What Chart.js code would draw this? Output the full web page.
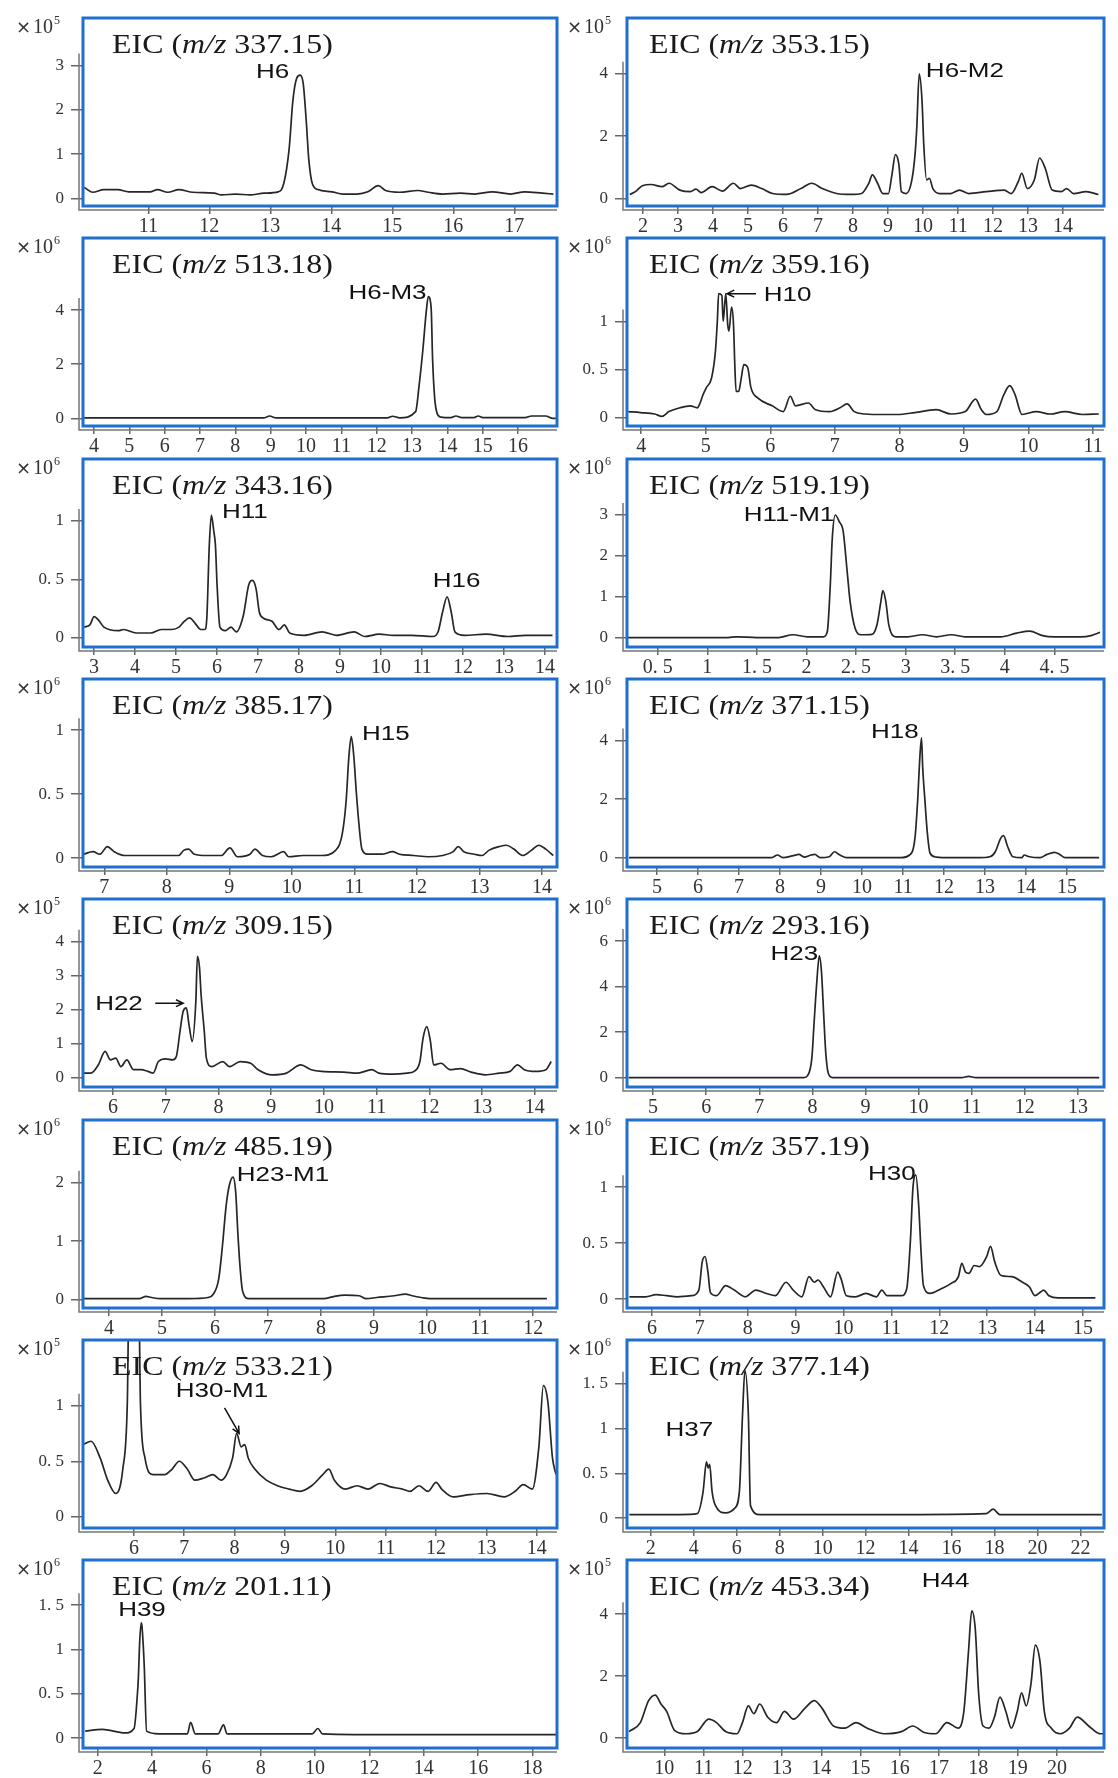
<!DOCTYPE html>
<html>
<head>
<meta charset="utf-8">
<script src="https://cdn.jsdelivr.net/npm/chart.js@4.4.1/dist/chart.umd.min.js"></script>
<style>
  body { margin: 0; background: #fff; width: 1118px; height: 1778px; overflow: hidden; position: relative; }
  canvas { position: absolute; }
</style>
</head>
<body>
<script>
// EIC traces: retention time (min) and intensity (in units of the panel's x10^n)
var p1Time = [9.95,10.09,10.27,10.5,10.68,11.03,11.15,11.32,11.5,11.73,12.08,12.2,12.43,12.67,12.9,13.13,13.22,13.31,13.37,13.43,13.49,13.54,13.59,13.63,13.69,13.78,14.01,14.19,14.42,14.6,14.77,14.89,15.12,15.42,15.59,15.82,16.12,16.35,16.64,16.94,17.17,17.46,17.64];
var p1Int = [0.25,0.14,0.2,0.2,0.15,0.15,0.2,0.14,0.2,0.14,0.12,0.08,0.1,0.08,0.12,0.15,0.33,1.13,2.2,2.7,2.78,2.59,1.74,0.9,0.33,0.2,0.15,0.1,0.1,0.15,0.29,0.18,0.14,0.18,0.14,0.1,0.12,0.1,0.15,0.1,0.15,0.12,0.1];
var p1XTicks = [11,12,13,14,15,16,17];
var p1YTicks = [0,1,2,3];
var p1Peaks = [{ text: 'H6', x: 13.31, y: 2.85, align: 'right' }];

var p2Time = [1.62,1.78,1.98,2.23,2.54,2.74,3.05,3.35,3.51,3.66,3.97,4.27,4.58,4.78,5.09,5.39,5.7,6.1,6.51,6.82,7.12,7.53,7.94,8.24,8.45,8.55,8.7,8.85,9.01,9.11,9.21,9.31,9.38,9.52,9.67,9.77,9.82,9.89,9.97,10.02,10.1,10.18,10.28,10.48,10.79,11.04,11.3,11.81,12.32,12.52,12.72,12.82,12.98,13.18,13.33,13.49,13.69,13.95,14.1,14.3,14.66,15.01];
var p2Int = [0.13,0.22,0.41,0.45,0.38,0.49,0.27,0.22,0.3,0.19,0.38,0.24,0.49,0.32,0.43,0.32,0.16,0.13,0.32,0.49,0.32,0.16,0.13,0.16,0.49,0.76,0.49,0.16,0.16,0.76,1.41,1.08,0.22,0.16,0.54,1.41,2.27,4.0,3.14,1.73,0.6,0.65,0.32,0.16,0.16,0.27,0.16,0.22,0.27,0.16,0.54,0.81,0.32,0.6,1.3,0.97,0.27,0.22,0.32,0.16,0.22,0.13];
var p2XTicks = [2,3,4,5,6,7,8,9,10,11,12,13,14];
var p2YTicks = [0,2,4];
var p2Peaks = [{ text: 'H6-M2', x: 10.08, y: 4.06, align: 'left' }];

var p3Time = [3.72,8.8,8.97,9.15,12.3,12.45,12.65,13.1,13.2,13.3,13.41,13.46,13.54,13.58,13.64,13.71,13.81,14.1,14.24,14.4,14.75,14.87,15.0,16.2,16.38,16.78,16.98,17.08];
var p3Int = [0.02,0.02,0.09,0.02,0.02,0.08,0.02,0.25,1.23,2.46,4.06,4.5,4.06,2.2,0.74,0.18,0.05,0.03,0.09,0.03,0.03,0.09,0.03,0.03,0.09,0.09,0.0,0.0];
var p3XTicks = [4,5,6,7,8,9,10,11,12,13,14,15,16];
var p3YTicks = [0,2,4];
var p3Peaks = [{ text: 'H6-M3', x: 13.41, y: 4.62, align: 'right' }];

var p4Time = [3.8,3.99,4.21,4.32,4.43,4.6,4.76,4.87,4.9,4.96,5.01,5.09,5.15,5.18,5.2,5.25,5.27,5.31,5.34,5.36,5.4,5.43,5.45,5.47,5.51,5.55,5.59,5.65,5.7,5.81,6.03,6.2,6.31,6.39,6.59,6.7,6.92,7.08,7.19,7.3,7.47,7.58,7.97,8.24,8.57,8.8,9.02,9.18,9.27,9.35,9.51,9.62,9.71,9.79,9.9,10.12,10.34,10.56,10.84,11.09];
var p4Int = [0.06,0.05,0.035,0.01,0.06,0.1,0.12,0.1,0.13,0.24,0.31,0.41,0.69,1.01,1.29,1.27,1.0,1.29,0.97,0.9,1.15,0.97,0.55,0.27,0.27,0.41,0.55,0.52,0.31,0.2,0.12,0.06,0.22,0.12,0.15,0.08,0.06,0.1,0.14,0.06,0.035,0.03,0.03,0.05,0.08,0.035,0.06,0.19,0.08,0.03,0.06,0.24,0.33,0.24,0.03,0.06,0.035,0.06,0.03,0.035];
var p4XTicks = [4,5,6,7,8,9,10,11];
var p4YTicks = [0,0.5,1];
var p4Peaks = [{ text: 'H10', x: 5.9, y: 1.27, align: 'left', arrow: [5.78, 1.29, 5.33, 1.29] }];

var p5Time = [2.76,2.9,3.0,3.11,3.24,3.59,3.72,4.03,4.38,4.64,4.9,5.07,5.2,5.33,5.47,5.6,5.7,5.75,5.81,5.86,5.92,5.96,6.0,6.07,6.2,6.34,6.47,6.64,6.77,6.86,6.95,7.03,7.12,7.34,7.51,7.64,7.77,8.12,8.56,8.91,9.34,9.6,9.95,10.3,10.74,11.26,11.39,11.5,11.61,11.71,11.8,12.04,12.56,13.09,13.52,14.18];
var p5Int = [0.09,0.11,0.18,0.15,0.09,0.06,0.07,0.04,0.04,0.07,0.07,0.09,0.14,0.17,0.12,0.07,0.07,0.17,0.79,1.05,0.91,0.79,0.45,0.09,0.06,0.09,0.05,0.19,0.45,0.49,0.42,0.22,0.17,0.14,0.07,0.11,0.04,0.02,0.05,0.02,0.05,0.01,0.03,0.02,0.02,0.01,0.05,0.22,0.35,0.22,0.05,0.02,0.03,0.01,0.02,0.02];
var p5XTicks = [3,4,5,6,7,8,9,10,11,12,13,14];
var p5YTicks = [0,0.5,1];
var p5Peaks = [{ text: 'H11', x: 6.12, y: 1.07, align: 'left' }, { text: 'H16', x: 11.84, y: 0.48, align: 'center' }];

var p6Time = [0.2,1.21,1.29,1.5,1.72,1.86,2.01,2.17,2.21,2.24,2.26,2.29,2.33,2.37,2.41,2.44,2.49,2.55,2.66,2.71,2.75,2.77,2.8,2.83,2.9,3.02,3.17,3.31,3.46,3.6,3.82,3.96,4.12,4.25,4.38,4.5,4.76,4.87,4.96];
var p6Int = [0,0,0.02,0,0,0.07,0.02,0.02,0.15,1.29,2.43,3.0,2.84,2.6,1.62,0.88,0.23,0.07,0.08,0.31,0.88,1.15,0.88,0.31,0.02,0.02,0.07,0.02,0.07,0.02,0.02,0.02,0.11,0.16,0.05,0.02,0.02,0.05,0.13];
var p6XTicks = [0.5,1,1.5,2,2.5,3,3.5,4,4.5];
var p6YTicks = [0,1,2,3];
var p6Peaks = [{ text: 'H11-M1', x: 2.28, y: 3.0, align: 'right' }];

var p7Time = [6.67,6.82,6.93,7.05,7.16,7.33,7.62,7.9,8.19,8.27,8.35,8.44,8.64,8.87,9.01,9.13,9.33,9.41,9.53,9.67,9.87,9.95,10.18,10.47,10.7,10.81,10.87,10.91,10.95,10.99,11.03,11.07,11.12,11.21,11.44,11.61,11.72,11.95,12.18,12.41,12.58,12.66,12.75,12.92,13.04,13.15,13.32,13.43,13.55,13.69,13.83,13.95,14.06,14.18];
var p7Int = [0.03,0.05,0.03,0.09,0.05,0.02,0.02,0.02,0.02,0.06,0.07,0.03,0.02,0.02,0.08,0.01,0.03,0.07,0.02,0.01,0.05,0.01,0.02,0.02,0.06,0.2,0.46,0.78,0.95,0.8,0.52,0.28,0.07,0.03,0.03,0.05,0.03,0.02,0.01,0.02,0.05,0.09,0.05,0.03,0.02,0.06,0.09,0.1,0.07,0.02,0.06,0.1,0.07,0.02];
var p7XTicks = [7,8,9,10,11,12,13,14];
var p7YTicks = [0,0.5,1];
var p7Peaks = [{ text: 'H15', x: 11.12, y: 0.97, align: 'left' }];

var p8Time = [4.32,7.8,7.94,8.07,8.33,8.46,8.59,8.76,8.85,8.98,9.2,9.33,9.46,9.63,10.42,10.94,11.16,11.29,11.36,11.4,11.45,11.48,11.53,11.59,11.66,11.81,12.16,12.86,13.12,13.25,13.38,13.45,13.55,13.68,13.9,13.95,14.08,14.34,14.51,14.69,14.82,14.95,15.78];
var p8Int = [0,0,0.09,0,0.07,0.11,0.02,0.09,0.11,0,0.03,0.2,0.09,0,0,0,0.09,0.66,2.03,3.17,4.09,3.06,2.03,0.89,0.15,0.02,0,0,0.03,0.2,0.66,0.75,0.38,0.03,0,0.09,0.03,0,0.11,0.18,0.11,0,0];
var p8XTicks = [5,6,7,8,9,10,11,12,13,14,15];
var p8YTicks = [0,2,4];
var p8Peaks = [{ text: 'H18', x: 11.38, y: 4.26, align: 'right' }];

var p9Time = [5.43,5.58,5.72,5.85,5.95,6.05,6.15,6.26,6.39,6.53,6.66,6.76,6.86,7.0,7.13,7.2,7.27,7.33,7.39,7.44,7.5,7.57,7.6,7.64,7.67,7.73,7.77,7.87,8.08,8.21,8.41,8.61,8.75,9.02,9.29,9.56,9.76,9.96,10.37,10.64,10.91,11.04,11.31,11.58,11.71,11.82,11.88,11.95,12.02,12.08,12.22,12.39,12.59,12.79,13.06,13.33,13.53,13.67,13.8,14.01,14.21,14.31];
var p9Int = [0.13,0.13,0.37,0.77,0.52,0.57,0.32,0.52,0.23,0.23,0.18,0.13,0.47,0.55,0.52,0.62,1.36,1.95,2.05,1.56,1.06,2.24,3.57,3.23,2.44,1.36,0.57,0.32,0.47,0.32,0.47,0.42,0.23,0.08,0.13,0.37,0.23,0.18,0.16,0.13,0.23,0.13,0.1,0.13,0.18,0.47,1.16,1.5,1.06,0.37,0.42,0.23,0.26,0.16,0.08,0.13,0.18,0.37,0.23,0.18,0.23,0.47];
var p9XTicks = [6,7,8,9,10,11,12,13,14];
var p9YTicks = [0,1,2,3,4];
var p9Peaks = [{ text: 'H22', x: 5.66, y: 2.15, align: 'left', arrow: [6.8, 2.19, 7.33, 2.19] }];

var p10Time = [4.54,7.84,7.91,7.99,8.03,8.08,8.13,8.17,8.21,8.25,8.3,8.38,8.79,10.81,10.94,11.08,13.4];
var p10Int = [0,0,0.09,0.86,2.33,4.1,5.35,4.69,2.92,1.15,0.19,0,0,0,0.06,0,0];
var p10XTicks = [5,6,7,8,9,10,11,12,13];
var p10YTicks = [0,2,4,6];
var p10Peaks = [{ text: 'H23', x: 8.11, y: 5.43, align: 'right' }];

var p11Time = [3.53,4.03,4.57,4.7,4.8,4.97,5.51,5.87,5.97,6.07,6.14,6.21,6.27,6.34,6.39,6.43,6.47,6.52,6.64,7.38,8.05,8.25,8.45,8.72,8.85,9.05,9.38,9.59,9.72,9.89,10.05,10.72,11.39,11.93,12.26];
var p11Int = [0.01,0.01,0.01,0.05,0.03,0.01,0.01,0.03,0.09,0.35,0.92,1.61,1.96,2.1,1.84,1.15,0.58,0.14,0.01,0.01,0.01,0.05,0.07,0.06,0.01,0.03,0.06,0.09,0.06,0.03,0.01,0.01,0.01,0.01,0.01];
var p11XTicks = [4,5,6,7,8,9,10,11,12];
var p11YTicks = [0,1,2];
var p11Peaks = [{ text: 'H23-M1', x: 6.41, y: 2.13, align: 'left' }];

var p12Time = [5.53,5.87,6.09,6.31,6.53,6.83,6.98,7.05,7.11,7.17,7.22,7.35,7.54,7.72,7.95,8.17,8.39,8.58,8.8,8.95,9.13,9.28,9.39,9.47,9.58,9.73,9.88,9.95,10.06,10.25,10.47,10.69,10.8,10.91,11.21,11.32,11.4,11.45,11.51,11.57,11.62,11.67,11.81,12.03,12.25,12.4,12.47,12.55,12.62,12.73,12.84,12.99,13.07,13.16,13.29,13.51,13.74,13.88,14.0,14.11,14.18,14.29,14.48,14.85,15.26];
var p12Int = [0.02,0.02,0.04,0.03,0.02,0.03,0.08,0.33,0.38,0.24,0.06,0.03,0.12,0.08,0.02,0.08,0.05,0.03,0.15,0.08,0.02,0.2,0.15,0.17,0.11,0.02,0.24,0.18,0.03,0.02,0.05,0.02,0.08,0.03,0.03,0.09,0.54,0.99,1.11,0.84,0.42,0.12,0.05,0.09,0.14,0.2,0.32,0.24,0.23,0.3,0.29,0.38,0.47,0.33,0.21,0.2,0.15,0.11,0.03,0.06,0.08,0.03,0.01,0.01,0.01];
var p12XTicks = [6,7,8,9,10,11,12,13,14,15];
var p12YTicks = [0,0.5,1];
var p12Peaks = [{ text: 'H30', x: 11.51, y: 1.11, align: 'right' }];

var p13Time = [4.99,5.15,5.33,5.48,5.64,5.78,5.87,5.91,6.09,6.13,6.22,6.38,6.61,6.76,6.9,7.06,7.21,7.39,7.57,7.73,7.84,7.96,8.04,8.13,8.2,8.27,8.4,8.63,8.85,9.08,9.3,9.53,9.75,9.87,9.98,10.2,10.43,10.65,10.88,11.1,11.33,11.48,11.66,11.84,12.0,12.11,12.34,12.67,13.01,13.35,13.57,13.73,13.91,14.04,14.13,14.22,14.31,14.38];
var p13Int = [0.65,0.68,0.53,0.33,0.21,0.43,1.03,2.2,2.2,1.03,0.53,0.38,0.38,0.43,0.5,0.43,0.33,0.35,0.38,0.33,0.38,0.53,0.75,0.63,0.65,0.53,0.43,0.33,0.28,0.25,0.23,0.28,0.38,0.43,0.33,0.25,0.28,0.25,0.3,0.27,0.25,0.23,0.28,0.23,0.31,0.25,0.18,0.2,0.21,0.18,0.23,0.29,0.25,0.63,1.18,1.03,0.53,0.38];
var p13XTicks = [6,7,8,9,10,11,12,13,14];
var p13YTicks = [0,0.5,1];
var p13Peaks = [{ text: 'H30-M1', x: 6.83, y: 1.13, align: 'left', arrow: [7.8, 0.98, 8.09, 0.75] }];

var p14Time = [1.0,3.37,4.16,4.43,4.59,4.67,4.74,4.85,5.01,5.48,5.9,6.12,6.27,6.38,6.54,6.64,7.07,9.7,13.93,17.62,17.94,18.25,21.84,23.0];
var p14Int = [0.04,0.04,0.05,0.29,0.63,0.56,0.6,0.3,0.14,0.06,0.11,0.29,1.16,1.65,1.16,0.14,0.04,0.04,0.04,0.05,0.1,0.04,0.04,0.04];
var p14XTicks = [2,4,6,8,10,12,14,16,18,20,22];
var p14YTicks = [0,0.5,1,1.5];
var p14Peaks = [{ text: 'H37', x: 3.79, y: 0.98, align: 'center' }];

var p15Time = [1.54,2.17,3.0,3.34,3.46,3.5,3.54,3.6,3.63,3.71,3.8,4.25,5.3,5.42,5.59,6.43,6.63,6.76,8.43,9.89,10.1,10.27,13.02,15.95,18.91];
var p15Int = [0.08,0.1,0.06,0.11,0.49,0.7,1.05,1.3,1.26,0.84,0.08,0.05,0.05,0.18,0.05,0.05,0.15,0.05,0.05,0.05,0.11,0.05,0.04,0.04,0.04];
var p15XTicks = [2,4,6,8,10,12,14,16,18];
var p15YTicks = [0,0.5,1,1.5];
var p15Peaks = [{ text: 'H39', x: 3.63, y: 1.44, align: 'center' }];

var p16Time = [9.1,9.39,9.6,9.77,9.91,10.06,10.26,10.55,10.84,11.13,11.33,11.56,11.85,11.99,12.14,12.28,12.43,12.63,12.86,13.06,13.29,13.58,13.82,14.02,14.31,14.6,14.88,15.17,15.61,16.04,16.33,16.62,16.91,17.2,17.49,17.63,17.75,17.83,17.92,18.01,18.12,18.27,18.41,18.55,18.7,18.84,18.99,19.1,19.22,19.34,19.45,19.57,19.68,19.86,20.09,20.32,20.52,20.81,21.1,21.2];
var p16Int = [0.21,0.5,1.21,1.39,1.11,0.86,0.25,0.14,0.21,0.61,0.5,0.21,0.14,0.5,1.04,0.79,1.1,0.68,0.5,0.86,0.61,0.96,1.21,0.96,0.39,0.32,0.5,0.32,0.14,0.21,0.39,0.18,0.14,0.5,0.32,0.86,2.82,4.11,3.54,1.39,0.39,0.32,0.68,1.32,0.86,0.32,0.86,1.46,1.04,1.75,3.0,2.46,0.86,0.32,0.14,0.32,0.68,0.39,0.14,0.14];
var p16XTicks = [10,11,12,13,14,15,16,17,18,19,20];
var p16YTicks = [0,2,4];
var p16Peaks = [{ text: 'H44', x: 17.77, y: 5.07, align: 'right' }];

var panels = [
  { mz: '337.15', exp: 5, time: p1Time, inten: p1Int, xTicks: p1XTicks, yTicks: p1YTicks, peaks: p1Peaks, xr: [9.93, 17.7], yr: [-0.17, 4.07] },
  { mz: '353.15', exp: 5, time: p2Time, inten: p2Int, xTicks: p2XTicks, yTicks: p2YTicks, peaks: p2Peaks, xr: [1.54, 15.17], yr: [-0.24, 5.79] },
  { mz: '513.18', exp: 6, time: p3Time, inten: p3Int, xTicks: p3XTicks, yTicks: p3YTicks, peaks: p3Peaks, xr: [3.69, 17.1], yr: [-0.28, 6.66] },
  { mz: '359.16', exp: 6, time: p4Time, inten: p4Int, xTicks: p4XTicks, yTicks: p4YTicks, peaks: p4Peaks, xr: [3.78, 11.17], yr: [-0.09, 1.87] },
  { mz: '343.16', exp: 6, time: p5Time, inten: p5Int, xTicks: p5XTicks, yTicks: p5YTicks, peaks: p5Peaks, xr: [2.73, 14.29], yr: [-0.08, 1.53] },
  { mz: '519.19', exp: 6, time: p6Time, inten: p6Int, xTicks: p6XTicks, yTicks: p6YTicks, peaks: p6Peaks, xr: [0.19, 5.0], yr: [-0.23, 4.37] },
  { mz: '385.17', exp: 6, time: p7Time, inten: p7Int, xTicks: p7XTicks, yTicks: p7YTicks, peaks: p7Peaks, xr: [6.66, 14.24], yr: [-0.07, 1.40] },
  { mz: '371.15', exp: 6, time: p8Time, inten: p8Int, xTicks: p8XTicks, yTicks: p8YTicks, peaks: p8Peaks, xr: [4.27, 15.9], yr: [-0.32, 6.1] },
  { mz: '309.15', exp: 5, time: p9Time, inten: p9Int, xTicks: p9XTicks, yTicks: p9YTicks, peaks: p9Peaks, xr: [5.43, 14.42], yr: [-0.28, 5.26] },
  { mz: '293.16', exp: 6, time: p10Time, inten: p10Int, xTicks: p10XTicks, yTicks: p10YTicks, peaks: p10Peaks, xr: [4.51, 13.49], yr: [-0.41, 7.85] },
  { mz: '485.19', exp: 6, time: p11Time, inten: p11Int, xTicks: p11XTicks, yTicks: p11YTicks, peaks: p11Peaks, xr: [3.51, 12.45], yr: [-0.15, 3.08] },
  { mz: '357.19', exp: 6, time: p12Time, inten: p12Int, xTicks: p12XTicks, yTicks: p12YTicks, peaks: p12Peaks, xr: [5.48, 15.44], yr: [-0.08, 1.6] },
  { mz: '533.21', exp: 5, time: p13Time, inten: p13Int, xTicks: p13XTicks, yTicks: p13YTicks, peaks: p13Peaks, xr: [4.99, 14.4], yr: [-0.1, 1.59] },
  { mz: '377.14', exp: 6, time: p14Time, inten: p14Int, xTicks: p14XTicks, yTicks: p14YTicks, peaks: p14Peaks, xr: [0.89, 23.1], yr: [-0.11, 1.99] },
  { mz: '201.11', exp: 6, time: p15Time, inten: p15Int, xTicks: p15XTicks, yTicks: p15YTicks, peaks: p15Peaks, xr: [1.46, 18.9], yr: [-0.11, 2.01] },
  { mz: '453.34', exp: 5, time: p16Time, inten: p16Int, xTicks: p16XTicks, yTicks: p16YTicks, peaks: p16Peaks, xr: [9.05, 21.2], yr: [-0.32, 5.75] }
];

// page layout of the blue plot frames
var colLeft = [83, 627];
var colRight = [557, 1104];
var rowTop = [18, 238, 459, 679, 899, 1120, 1340, 1560];
var boxH = 188;
var padTop = 6, padRight = 20, axisW = 75, axisH = 35;

function fmt(v) {
  return String(v).replace('.', '. ');
}

// the original figure is stretched sideways, so its text is too
function wideText(ctx, text, x, y, sx, align) {
  ctx.save();
  ctx.translate(x, y);
  ctx.scale(sx, 1);
  ctx.textAlign = align;
  ctx.fillText(text, 0, 0);
  ctx.restore();
}

function arrow(ctx, x1, y1, x2, y2) {
  var ang = Math.atan2(y2 - y1, x2 - x1);
  ctx.beginPath();
  ctx.moveTo(x1, y1);
  ctx.lineTo(x2, y2);
  ctx.moveTo(x2 - 8 * Math.cos(ang - 0.45), y2 - 8 * Math.sin(ang - 0.45));
  ctx.lineTo(x2, y2);
  ctx.lineTo(x2 - 8 * Math.cos(ang + 0.45), y2 - 8 * Math.sin(ang + 0.45));
  ctx.stroke();
}

function framePlugin(p, col) {
  return {
    id: 'eicFrame',
    afterDraw: function (chart) {
      var ctx = chart.ctx, a = chart.chartArea;
      var xs = chart.scales.x, ys = chart.scales.y;
      ctx.save();
      // grey axis lines just outside the frame
      ctx.strokeStyle = '#777';
      ctx.lineWidth = 1.5;
      ctx.beginPath();
      ctx.moveTo(a.left - 4, ys.getPixelForValue(p.yTicks[p.yTicks.length - 1]) - 12);
      ctx.lineTo(a.left - 4, a.bottom + 4);
      ctx.lineTo(a.right, a.bottom + 4);
      ctx.stroke();
      // blue frame
      ctx.strokeStyle = '#1f6fce';
      ctx.lineWidth = 3;
      ctx.strokeRect(a.left, a.top, a.right - a.left, a.bottom - a.top);
      // title  EIC (m/z ...)
      var tx = a.left + (col === 0 ? 29 : 22), ty = a.top + 35;
      var parts = [['EIC (', 'normal'], ['m/z', 'italic'], [' ' + p.mz + ')', 'normal']];
      ctx.fillStyle = '#1a1a1a';
      ctx.textBaseline = 'alphabetic';
      parts.forEach(function (pt) {
        ctx.font = pt[1] + ' 28px "Liberation Serif"';
        wideText(ctx, pt[0], tx, ty, 1.14, 'left');
        tx += ctx.measureText(pt[0]).width * 1.14;
      });
      // exponent label  x10^n
      var ex = a.left - (col === 0 ? 67 : 60);
      ctx.fillStyle = '#333';
      ctx.textAlign = 'left';
      ctx.font = '18px "DejaVu Sans"';
      ctx.fillText('×', ex, a.top + 15);
      ex += ctx.measureText('×').width + 2;
      ctx.font = '20px "Liberation Serif"';
      ctx.fillText('10', ex, a.top + 15);
      ex += ctx.measureText('10').width + 1;
      ctx.font = '12px "Liberation Serif"';
      ctx.fillText(String(p.exp), ex, a.top + 6);
      // peak labels
      ctx.fillStyle = '#111';
      ctx.strokeStyle = '#111';
      ctx.lineWidth = 1.5;
      ctx.font = '20px "Liberation Sans"';
      ctx.textBaseline = 'middle';
      p.peaks.forEach(function (pk) {
        wideText(ctx, pk.text, xs.getPixelForValue(pk.x), ys.getPixelForValue(pk.y), 1.3, pk.align);
        if (pk.arrow) {
          arrow(ctx, xs.getPixelForValue(pk.arrow[0]), ys.getPixelForValue(pk.arrow[1]),
            xs.getPixelForValue(pk.arrow[2]), ys.getPixelForValue(pk.arrow[3]));
        }
      });
      ctx.restore();
    }
  };
}

panels.forEach(function (p, i) {
  var row = Math.floor(i / 2), col = i % 2;
  var L = colLeft[col], R = colRight[col], T = rowTop[row];
  var cv = document.createElement('canvas');
  cv.id = 'eic' + (i + 1);
  cv.width = axisW + (R - L) + padRight;
  cv.height = padTop + boxH + axisH;
  cv.style.left = (L - axisW) + 'px';
  cv.style.top = (T - padTop) + 'px';
  document.body.appendChild(cv);

  var ctx = document.getElementById(cv.id).getContext('2d');
  new Chart(ctx, {
    type: 'line',
    data: {
      datasets: [{
        data: p.time.map(function (t, k) { return { x: t, y: p.inten[k] }; }),
        borderColor: '#262626',
        borderWidth: 1.7,
        pointRadius: 0,
        tension: 0.3,
        cubicInterpolationMode: 'monotone',
        fill: false
      }]
    },
    options: {
      responsive: false,
      animation: false,
      events: [],
      layout: { padding: { top: padTop, right: padRight, left: 0, bottom: 0 } },
      plugins: { legend: { display: false }, tooltip: { enabled: false } },
      scales: {
        x: {
          type: 'linear',
          min: p.xr[0],
          max: p.xr[1],
          afterBuildTicks: function (s) { s.ticks = p.xTicks.map(function (v) { return { value: v }; }); },
          afterFit: function (s) { s.height = axisH; s.paddingLeft = 0; s.paddingRight = 0; },
          border: { display: false },
          grid: { drawOnChartArea: false, tickLength: 8, color: '#666', lineWidth: 1.5 },
          ticks: {
            color: '#333', padding: 3, maxRotation: 0, autoSkip: false,
            font: { family: 'Liberation Serif', size: 20, lineHeight: 1 },
            callback: fmt
          }
        },
        y: {
          min: p.yr[0],
          max: p.yr[1],
          afterBuildTicks: function (s) { s.ticks = p.yTicks.map(function (v) { return { value: v }; }); },
          afterFit: function (s) { s.width = axisW; s.paddingTop = 0; s.paddingBottom = 0; },
          border: { display: false },
          grid: { drawOnChartArea: false, tickLength: 12, color: '#666', lineWidth: 1.5 },
          ticks: {
            color: '#333', padding: 7,
            font: { family: 'Liberation Serif', size: 17 },
            callback: fmt
          }
        }
      }
    },
    plugins: [framePlugin(p, col)]
  });
});
</script>
</body>
</html>
